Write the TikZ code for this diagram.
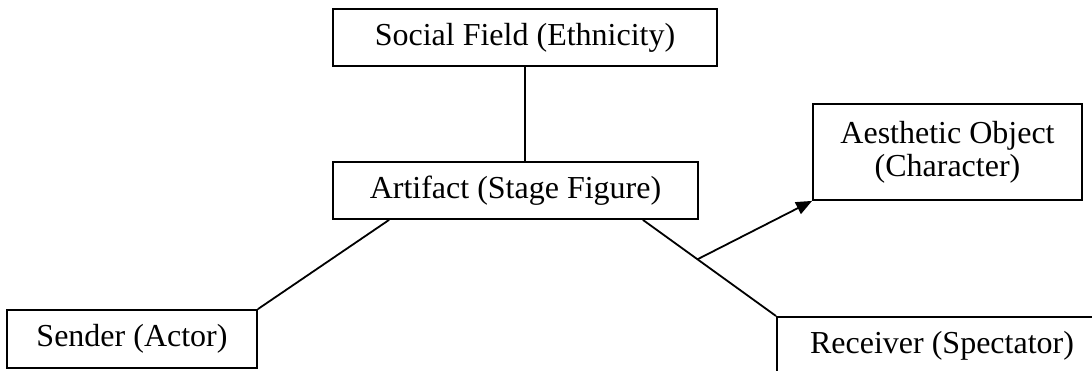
\documentclass[tikz,border=0pt]{standalone}
\usepackage{fontspec}
\setmainfont{Liberation Serif}
\usetikzlibrary{arrows.meta}
\begin{document}
\begin{tikzpicture}[x=1pt,y=1pt,
  box/.style={draw,line width=1.8pt,inner sep=0pt,align=center,
    font=\fontsize{32}{33}\selectfont},
  conn/.style={line width=1.8pt}]
\useasboundingbox (0,0) rectangle (1092,371);
\clip (0,0) rectangle (1092,371);
\node[box,minimum width=384,minimum height=57] (social) at (525,333.5) {Social Field (Ethnicity)};
\node[box,minimum width=365,minimum height=57] (artifact) at (515.5,180.5) {Artifact (Stage Figure)};
\node[box,minimum width=250,minimum height=58] (sender) at (132,32) {Sender (Actor)};
\node[box,minimum width=269,minimum height=96] (aesthetic) at (947.5,219) {Aesthetic Object\\(Character)};
\node[box,minimum width=334,minimum height=64,anchor=north west] (receiver) at (776,55) {};
\node[font=\fontsize{32}{33}\selectfont,inner sep=0pt] (receivertext) at (942,25) {Receiver (Spectator)};
\draw[conn] (social.south) -- (social.south |- artifact.north);
\coordinate (aL) at ([xshift=57pt]artifact.south west);
\coordinate (aR) at ([xshift=-56pt]artifact.south east);
\draw[conn] (aL) -- (sender.north east);
\draw[conn] (aR) -- coordinate[pos=0.41] (split) (receiver.north west);
\draw[conn,-{Triangle[length=16pt,width=13pt]}] (split) -- (aesthetic.south west);
\end{tikzpicture}
\end{document}
